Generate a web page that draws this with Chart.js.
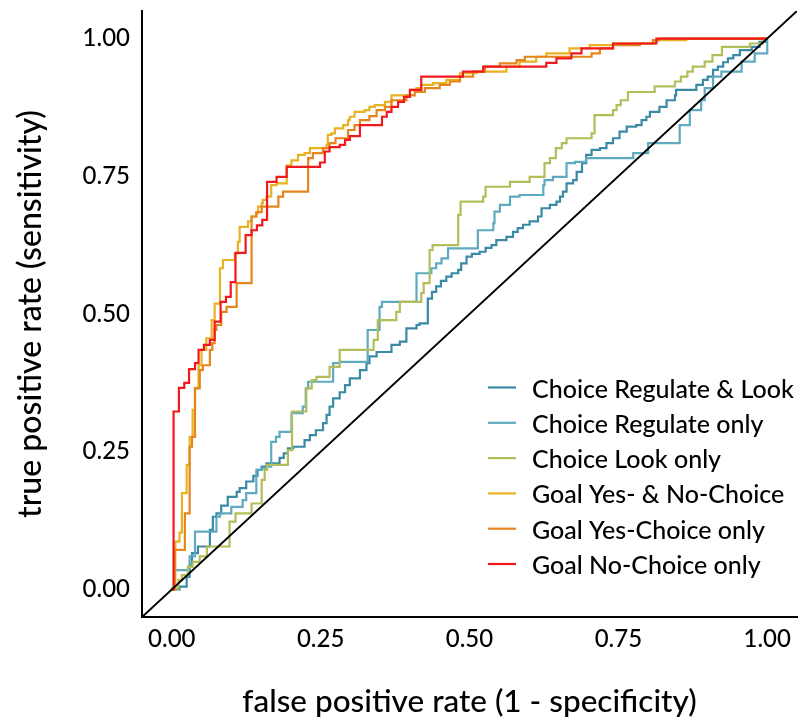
<!DOCTYPE html>
<html>
<head>
<meta charset="utf-8">
<title>ROC curves</title>
<script src="https://cdn.jsdelivr.net/npm/chart.js@4/dist/chart.umd.min.js"></script>
<style>
  html, body { margin: 0; padding: 0; background: #ffffff; }
  #wrap { width: 801px; height: 723px; }
</style>
</head>
<body>
<div id="wrap"><canvas id="roc" width="801" height="723"></canvas></div>
<script>
// ---- ROC data: false positive rate (fpr) and true positive rate (tpr) per model ----
const seriesLabels = [
  'Choice Regulate & Look',
  'Choice Regulate only',
  'Choice Look only',
  'Goal Yes- & No-Choice',
  'Goal Yes-Choice only',
  'Goal No-Choice only'
];

const choiceRegLookFpr = [0, 0.013, 0.025, 0.030, 0.034, 0.044, 0.064, 0.069, 0.075, 0.083, 0.094, 0.109, 0.114, 0.125, 0.137, 0.144, 0.151, 0.159, 0.181, 0.188, 0.195, 0.204, 0.223, 0.232, 0.242, 0.254, 0.260, 0.265, 0.271, 0.282, 0.291, 0.299, 0.316, 0.327, 0.332, 0.344, 0.369, 0.383, 0.394, 0.411, 0.416, 0.430, 0.437, 0.444, 0.452, 0.461, 0.470, 0.481, 0.486, 0.495, 0.504, 0.517, 0.527, 0.537, 0.545, 0.562, 0.573, 0.581, 0.590, 0.601, 0.615, 0.621, 0.635, 0.646, 0.652, 0.657, 0.663, 0.674, 0.680, 0.689, 0.696, 0.705, 0.719, 0.730, 0.741, 0.752, 0.764, 0.780, 0.789, 0.797, 0.803, 0.819, 0.831, 0.845, 0.847, 0.881, 0.892, 0.900, 0.909, 0.917, 0.926, 0.934, 0.943, 0.954, 0.974, 0.987, 0.999, 1.0];
const choiceRegLookTpr = [0, 0, 0.005, 0.023, 0.044, 0.066, 0.078, 0.108, 0.132, 0.138, 0.152, 0.168, 0.177, 0.184, 0.196, 0.206, 0.217, 0.223, 0.229, 0.239, 0.247, 0.256, 0.259, 0.271, 0.280, 0.289, 0.302, 0.317, 0.332, 0.347, 0.358, 0.371, 0.383, 0.398, 0.411, 0.423, 0.431, 0.444, 0.450, 0.474, 0.480, 0.483, 0.528, 0.540, 0.550, 0.560, 0.568, 0.574, 0.580, 0.592, 0.604, 0.609, 0.613, 0.620, 0.625, 0.634, 0.640, 0.649, 0.656, 0.662, 0.668, 0.677, 0.692, 0.698, 0.704, 0.713, 0.722, 0.737, 0.743, 0.758, 0.774, 0.789, 0.798, 0.801, 0.810, 0.819, 0.831, 0.840, 0.843, 0.852, 0.858, 0.867, 0.876, 0.888, 0.897, 0.907, 0.916, 0.925, 0.931, 0.943, 0.949, 0.957, 0.964, 0.970, 0.979, 0.985, 0.994, 1.0];

const choiceRegOnlyFpr = [0, 0.005, 0.030, 0.039, 0.075, 0.081, 0.100, 0.119, 0.125, 0.142, 0.151, 0.159, 0.167, 0.175, 0.181, 0.201, 0.220, 0.225, 0.229, 0.271, 0.282, 0.329, 0.349, 0.353, 0.411, 0.436, 0.444, 0.453, 0.464, 0.514, 0.540, 0.542, 0.551, 0.568, 0.584, 0.624, 0.626, 0.640, 0.663, 0.677, 0.696, 0.775, 0.800, 0.853, 0.870, 0.889, 0.895, 0.909, 0.923, 0.957, 0.979, 1.0, 1.0];
const choiceRegOnlyTpr = [0, 0, 0.035, 0.060, 0.105, 0.132, 0.138, 0.150, 0.162, 0.175, 0.217, 0.220, 0.223, 0.268, 0.277, 0.286, 0.320, 0.332, 0.365, 0.377, 0.411, 0.413, 0.471, 0.513, 0.522, 0.574, 0.583, 0.592, 0.601, 0.619, 0.652, 0.665, 0.686, 0.698, 0.713, 0.716, 0.734, 0.743, 0.749, 0.774, 0.776, 0.783, 0.792, 0.810, 0.843, 0.870, 0.888, 0.910, 0.931, 0.940, 0.958, 0.973, 1.0];

const choiceLookOnlyFpr = [0, 0.011, 0.017, 0.027, 0.035, 0.047, 0.059, 0.097, 0.107, 0.134, 0.151, 0.156, 0.160, 0.195, 0.202, 0.226, 0.235, 0.243, 0.265, 0.282, 0.339, 0.346, 0.377, 0.383, 0.419, 0.423, 0.433, 0.438, 0.481, 0.485, 0.523, 0.527, 0.568, 0.601, 0.626, 0.635, 0.645, 0.655, 0.663, 0.705, 0.710, 0.741, 0.747, 0.754, 0.766, 0.811, 0.845, 0.855, 0.866, 0.875, 0.895, 0.908, 0.924, 0.971, 0.993, 1.0];
const choiceLookOnlyTpr = [0, 0.002, 0.017, 0.026, 0.041, 0.050, 0.060, 0.078, 0.123, 0.138, 0.156, 0.199, 0.217, 0.226, 0.253, 0.323, 0.365, 0.380, 0.386, 0.404, 0.435, 0.453, 0.489, 0.504, 0.522, 0.538, 0.556, 0.616, 0.625, 0.680, 0.704, 0.713, 0.731, 0.740, 0.749, 0.774, 0.783, 0.801, 0.810, 0.819, 0.828, 0.861, 0.870, 0.879, 0.888, 0.903, 0.913, 0.922, 0.931, 0.940, 0.949, 0.958, 0.970, 0.985, 0.991, 1.0];

const goalYesNoFpr = [0, 0.006, 0.013, 0.017, 0.025, 0.030, 0.035, 0.039, 0.045, 0.050, 0.058, 0.067, 0.072, 0.081, 0.086, 0.106, 0.111, 0.114, 0.128, 0.134, 0.142, 0.145, 0.151, 0.153, 0.159, 0.167, 0.176, 0.193, 0.201, 0.212, 0.223, 0.232, 0.260, 0.262, 0.268, 0.274, 0.288, 0.296, 0.299, 0.307, 0.324, 0.332, 0.341, 0.358, 0.369, 0.400, 0.411, 0.419, 0.439, 0.461, 0.484, 0.512, 0.562, 0.584, 0.612, 0.629, 0.668, 0.702, 0.741, 0.811, 0.864, 1.0];
const goalYesNoTpr = [0, 0, 0.087, 0.103, 0.175, 0.226, 0.277, 0.326, 0.366, 0.407, 0.435, 0.456, 0.489, 0.519, 0.583, 0.598, 0.610, 0.631, 0.658, 0.668, 0.677, 0.683, 0.695, 0.701, 0.707, 0.713, 0.734, 0.737, 0.770, 0.779, 0.789, 0.792, 0.801, 0.807, 0.825, 0.828, 0.837, 0.843, 0.852, 0.858, 0.867, 0.870, 0.876, 0.879, 0.885, 0.897, 0.907, 0.910, 0.916, 0.919, 0.925, 0.937, 0.940, 0.949, 0.958, 0.967, 0.973, 0.982, 0.988, 0.991, 0.997, 1.0];

const goalYesOnlyFpr = [0, 0.005, 0.022, 0.030, 0.034, 0.039, 0.047, 0.052, 0.064, 0.068, 0.072, 0.075, 0.083, 0.092, 0.109, 0.134, 0.142, 0.151, 0.179, 0.187, 0.229, 0.237, 0.254, 0.265, 0.275, 0.296, 0.307, 0.316, 0.332, 0.344, 0.358, 0.369, 0.394, 0.408, 0.425, 0.450, 0.467, 0.484, 0.506, 0.526, 0.551, 0.579, 0.593, 0.705, 0.719, 0.741, 0.786, 0.808, 0.819, 1.0];
const goalYesOnlyTpr = [0, 0, 0.072, 0.138, 0.259, 0.277, 0.365, 0.398, 0.407, 0.435, 0.447, 0.471, 0.480, 0.504, 0.513, 0.556, 0.677, 0.685, 0.695, 0.713, 0.722, 0.783, 0.792, 0.801, 0.810, 0.819, 0.834, 0.843, 0.852, 0.859, 0.870, 0.876, 0.888, 0.897, 0.903, 0.910, 0.916, 0.922, 0.931, 0.940, 0.949, 0.955, 0.961, 0.967, 0.973, 0.982, 0.988, 0.991, 0.997, 1.0];

const goalNoOnlyFpr = [0, 0.003, 0.012, 0.021, 0.029, 0.039, 0.045, 0.054, 0.064, 0.072, 0.082, 0.091, 0.099, 0.107, 0.124, 0.134, 0.143, 0.152, 0.160, 0.176, 0.193, 0.249, 0.257, 0.265, 0.282, 0.291, 0.299, 0.316, 0.353, 0.361, 0.369, 0.380, 0.390, 0.400, 0.419, 0.489, 0.523, 0.629, 0.646, 0.671, 0.688, 0.741, 0.814, 1.0];
const goalNoOnlyTpr = [0, 0, 0.323, 0.366, 0.375, 0.400, 0.411, 0.435, 0.444, 0.453, 0.486, 0.522, 0.531, 0.558, 0.611, 0.643, 0.652, 0.661, 0.671, 0.740, 0.749, 0.767, 0.775, 0.795, 0.803, 0.807, 0.816, 0.823, 0.843, 0.858, 0.867, 0.876, 0.885, 0.894, 0.907, 0.931, 0.940, 0.949, 0.956, 0.964, 0.973, 0.982, 0.991, 1.0];

// chance line (y = x) across the full axis range
const chanceX = [-0.05, 1.05];
const chanceY = [-0.05, 1.05];

const tickValues = [0, 0.25, 0.5, 0.75, 1];

// ---- styling ----
const seriesColors = ['#3a8aa5', '#5eaabf', '#b3bd5a', '#e7b323', '#e5861c', '#f01a1e'];
const FONT = "Lato, 'Noto Sans', sans-serif";
const WEIGHT = '500';

const toPoints = (xs, ys) => xs.map((x, i) => ({ x: x, y: ys[i] }));

const curves = [
  [choiceRegLookFpr, choiceRegLookTpr],
  [choiceRegOnlyFpr, choiceRegOnlyTpr],
  [choiceLookOnlyFpr, choiceLookOnlyTpr],
  [goalYesNoFpr, goalYesNoTpr],
  [goalYesOnlyFpr, goalYesOnlyTpr],
  [goalNoOnlyFpr, goalNoOnlyTpr]
];

const datasets = curves.map((c, i) => ({
  label: seriesLabels[i],
  data: toPoints(c[0], c[1]),
  borderColor: seriesColors[i],
  backgroundColor: seriesColors[i],
  borderWidth: 2.2,
  stepped: 'after',
  pointRadius: 0,
  fill: false,
  order: 6 - i,        // later series drawn on top
  inLegend: true
}));

datasets.push({
  label: 'chance',
  data: toPoints(chanceX, chanceY),
  borderColor: '#000000',
  borderWidth: 2,
  pointRadius: 0,
  fill: false,
  order: 0,
  inLegend: false
});

// legend drawn inside the plotting panel, lower right
const insetLegend = {
  id: 'insetLegend',
  afterDatasetsDraw(chart, args, opts) {
    const { ctx, chartArea } = chart;
    const x0 = chartArea.right - opts.fromRight;
    let y = chartArea.bottom - opts.fromBottom;
    ctx.save();
    ctx.font = WEIGHT + ' ' + opts.fontSize + 'px ' + FONT;
    ctx.textBaseline = 'middle';
    ctx.textAlign = 'left';
    chart.data.datasets.forEach(ds => {
      if (!ds.inLegend) return;
      ctx.strokeStyle = ds.borderColor;
      ctx.lineWidth = 2.2;
      ctx.beginPath();
      ctx.moveTo(x0, y);
      ctx.lineTo(x0 + opts.swatch, y);
      ctx.stroke();
      ctx.fillStyle = '#000000';
      ctx.fillText(ds.label, x0 + opts.swatch + opts.gap, y + opts.textShift);
      y += opts.rowGap;
    });
    ctx.restore();
  }
};

const setTicks = scale => { scale.ticks = tickValues.map(v => ({ value: v })); };

new Chart(document.getElementById('roc'), {
  type: 'line',
  data: { datasets: datasets },
  options: {
    responsive: false,
    animation: false,
    layout: { padding: { top: 11, right: 4, left: 0, bottom: 0 } },
    plugins: {
      legend: { display: false },
      tooltip: { enabled: false },
      insetLegend: { fromRight: 309, fromBottom: 229.5, rowGap: 35.3, swatch: 28, gap: 16, fontSize: 25, textShift: 2 }
    },
    scales: {
      x: {
        type: 'linear',
        min: -0.05,
        max: 1.05,
        afterBuildTicks: setTicks,
        afterFit: s => { s.height = 106; s.paddingLeft = 0; s.paddingRight = 0; },
        grid: { display: true, drawOnChartArea: false, drawTicks: false },
        border: { display: true, color: '#000000', width: 2 },
        ticks: {
          callback: v => Number(v).toFixed(2),
          color: '#000000',
          font: { family: FONT, size: 24, weight: WEIGHT },
          padding: 8,
          maxRotation: 0,
          autoSkip: false
        },
        title: {
          display: true,
          text: 'false positive rate (1 - specificity)',
          color: '#000000',
          font: { family: FONT, size: 31.5, weight: WEIGHT },
          padding: { top: 0, bottom: 2 }
        }
      },
      y: {
        type: 'linear',
        min: -0.05,
        max: 1.05,
        afterBuildTicks: setTicks,
        afterFit: s => { s.width = 142; s.paddingTop = 0; s.paddingBottom = 0; },
        grid: { display: true, drawOnChartArea: false, drawTicks: false },
        border: { display: true, color: '#000000', width: 2 },
        ticks: {
          callback: v => Number(v).toFixed(2),
          color: '#000000',
          font: { family: FONT, size: 24, weight: WEIGHT },
          padding: 12
        },
        title: {
          display: true,
          text: 'true positive rate (sensitivity)',
          color: '#000000',
          font: { family: FONT, size: 32, weight: WEIGHT },
          padding: { top: 11, bottom: 0 }
        }
      }
    }
  },
  plugins: [insetLegend]
});
</script>
</body>
</html>
